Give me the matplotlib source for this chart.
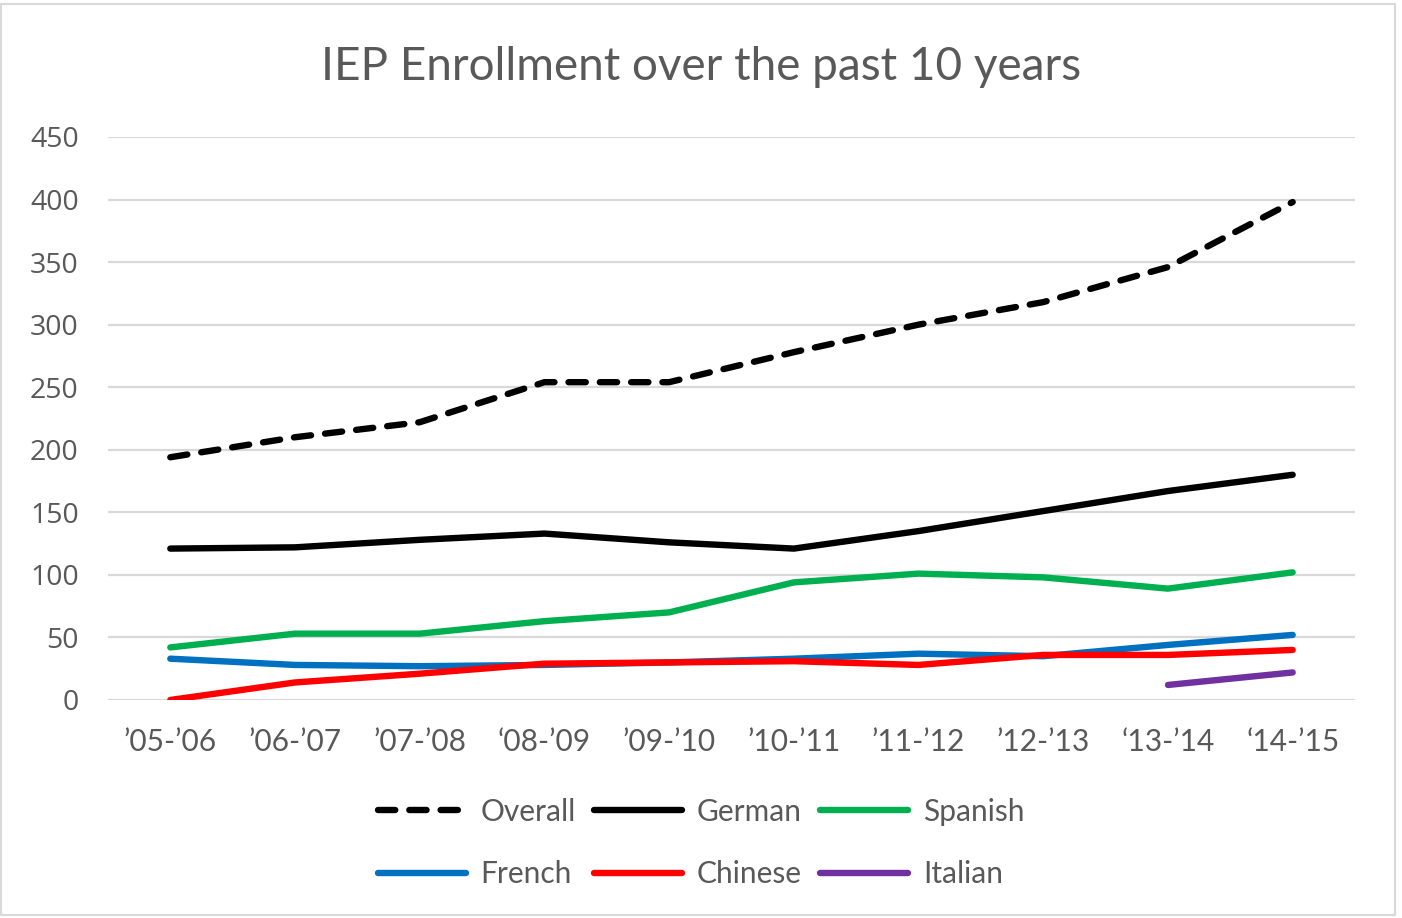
import matplotlib
matplotlib.use("Agg")
import matplotlib.pyplot as plt
from matplotlib.patches import Rectangle
import numpy as np

txt_gray = "#595959"
grid_gray = "#d9d9d9"

years = ["\u201905-\u201906", "\u201906-\u201907", "\u201907-\u201908", "\u201808-\u201909",
         "\u201909-\u201910", "\u201910-\u201911", "\u201911-\u201912", "\u201912-\u201913",
         "\u201813-\u201914", "\u201814-\u201915"]

overall = [194, 210, 222, 254, 254, 278, 300, 318, 346, 398]
german = [121, 122, 128, 133, 126, 121, 135, 151, 167, 180]
spanish = [42, 53, 53, 63, 70, 94, 101, 98, 89, 102]
french = [33, 28, 27, 28, 30, 33, 37, 35, 44, 52]
chinese = [0, 14, 21, 29, 30, 31, 28, 36, 36, 40]
italian = [np.nan] * 8 + [12, 22]

y_ticks = [0, 50, 100, 150, 200, 250, 300, 350, 400, 450]

fig = plt.figure(figsize=(14.02, 9.18), dpi=100)
ax = fig.add_axes([0.077, 0.2375, 0.8895, 0.6133])

x = np.arange(len(years))
lw = 4.6
lines = {}
lines["Overall"], = ax.plot(x, overall, color="black", lw=lw, linestyle=(0, (2.7, 2.2)),
                            dash_capstyle="round", solid_capstyle="round")
lines["German"], = ax.plot(x, german, color="black", lw=lw, solid_capstyle="round")
lines["Spanish"], = ax.plot(x, spanish, color="#00b050", lw=lw, solid_capstyle="round")
lines["French"], = ax.plot(x, french, color="#0070c0", lw=lw, solid_capstyle="round")
lines["Chinese"], = ax.plot(x, chinese, color="#ff0000", lw=lw, solid_capstyle="round")
lines["Italian"], = ax.plot(x, italian, color="#7030a0", lw=lw, solid_capstyle="round")

ax.set_xlim(-0.5, len(years) - 0.5)
ax.set_ylim(0, 450)
ax.set_yticks(y_ticks)
ax.set_xticks(x)
ax.set_xticklabels(years, family="Lato", fontsize=21.5, color=txt_gray)
for lab in ax.get_yticklabels():
    lab.set_family("Open Sans")
    lab.set_fontsize(20.5)
    lab.set_color(txt_gray)
ax.tick_params(axis="both", length=0)
ax.tick_params(axis="y", pad=21)
ax.tick_params(axis="x", pad=20.5)
ax.grid(axis="y", color=grid_gray, lw=1.6)
ax.set_axisbelow(True)
for s in ax.spines.values():
    s.set_visible(False)

fig.text(0.5, 0.927, "IEP Enrollment over the past 10 years", ha="center", va="center",
         family="Lato", fontsize=33, color=txt_gray)

# legend: row-wise order via column-major reshuffle
order = ["Overall", "French", "German", "Chinese", "Spanish", "Italian"]
leg = fig.legend([lines[k] for k in order], order, ncol=3, loc="center",
                 bbox_to_anchor=(0.5, 0.0817), frameon=False,
                 prop={"family": "Lato", "size": 21.5}, handlelength=2.95,
                 handletextpad=0.5, columnspacing=0.6, labelspacing=1.15)
for t in leg.get_texts():
    t.set_color(txt_gray)

fig.patches.append(Rectangle((0.001, 0.003), 0.994, 0.993, transform=fig.transFigure,
                             fill=False, edgecolor=grid_gray, lw=1.5))

fig.savefig("out.png", dpi=100)
